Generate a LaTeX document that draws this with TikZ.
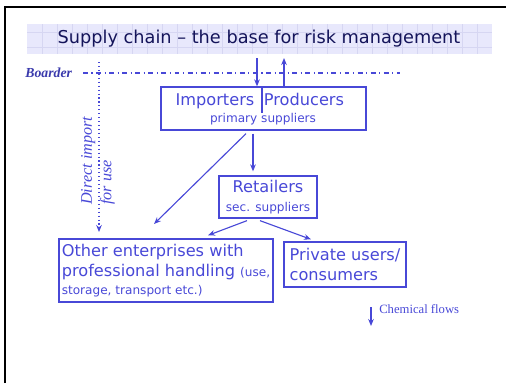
\documentclass[tikz,border=0pt]{standalone}
\usepackage{fontspec}
\setmainfont{DejaVu Sans}
\newfontfamily\notefont{Liberation Serif}
\usetikzlibrary{arrows.meta,calc,positioning}

\definecolor{chainblue}{RGB}{72,72,215}
\definecolor{titlenavy}{RGB}{20,20,90}
\definecolor{bandfill}{RGB}{232,232,252}
\definecolor{bandgrid}{RGB}{214,214,242}

\tikzset{
  party/.style = {draw=chainblue, line width=0.9pt, rectangle, inner sep=0pt},
  flow/.style = {chainblue, line width=0.8pt, -{Stealth[length=5pt,width=4pt]}},
  bigtext/.style = {font=\fontsize{11.5}{14}\selectfont},
  smalltext/.style = {font=\fontsize{8.6}{10}\selectfont}
}

\begin{document}
\begin{tikzpicture}[x=0.025cm, y=-0.025cm, every node/.style = {text=chainblue}]
  \useasboundingbox (0,0) rectangle (506,383);

  % slide frame and title band
  \draw[line width=1.4pt] (5,383) -- (5,7) -- (506,7);
  \fill[bandfill] (27,24) rectangle (492,54);
  \foreach \gx in {42,57,...,490} \draw[bandgrid, line width=0.4pt] (\gx,24) -- (\gx,54);
  \foreach \gy in {32,47} \draw[bandgrid, line width=0.4pt] (27,\gy) -- (492,\gy);
  \node[text=titlenavy, font=\fontsize{12.6}{14}\selectfont] (title) at (259,39) {Supply chain – the base for risk management};

  % border line
  \node[anchor=east, text=chainblue!80!black, font=\notefont\bfseries\itshape\fontsize{9.8}{11}\selectfont] (boarder) at (77,73) {Boarder};
  \coordinate (bl) at (83,73);
  \coordinate (br) at (400,73);
  \draw[chainblue, line width=0.8pt, dash pattern=on 3.5pt off 2.5pt on 0.8pt off 2.5pt] (bl) -- (br);

  % boxes
  \node[party, minimum width=5.125cm, minimum height=1.075cm] (prim) at (263.5,108.5) {};
  \node[bigtext, anchor=base] (imp) at (215,105) {Importers};
  \node[bigtext, anchor=base] (prod) at (304,105) {Producers};
  \node[smalltext] (primtxt) at (263,119) {primary suppliers};
  \coordinate (split) at (262,113);
  \draw[chainblue, line width=0.8pt] (split |- prim.north) -- (split);

  \node[party, minimum width=2.45cm, minimum height=1.05cm, align=center, bigtext] (ret) at (268,197)
    {Retailers\\[-1pt]{\fontsize{8.6}{10}\selectfont sec. suppliers}};

  \node[party, minimum width=5.35cm, minimum height=1.575cm, align=left, bigtext] (other) at (166,270.5)
    {Other enterprises with\\professional handling {\fontsize{8.6}{10}\selectfont(use,}\\[-1pt]{\fontsize{8.6}{10}\selectfont storage, transport etc.)}};

  \node[party, minimum width=3.05cm, minimum height=1.125cm, align=left, bigtext] (priv) at (345,264.5)
    {Private users/\\consumers};

  % flows
  \coordinate (inflow) at (257,58);
  \coordinate (outflow) at (284,58);
  \draw[flow] (inflow) -- (inflow |- prim.north);
  \draw[flow] (outflow |- prim.north) -- (outflow);
  \draw[flow] ($(prim.south)+(-10.5,3)$) -- ($(ret.north)+(-15,-4)$);
  \coordinate (direct) at (154,224);
  \draw[flow] ($(prim.south)+(-17.5,3)$) -- (direct);
  \draw[flow] ($(ret.south)+(-21,2)$) -- ($(other.north)+(42,-3)$);
  \draw[flow] ($(ret.south)+(-8,2)$) -- ($(priv.north)+(-34,-2)$);

  % direct import
  \coordinate (dtop) at (99,62);
  \coordinate (dbot) at (99,232);
  \draw[flow, dotted] (dtop) -- (dbot);
  \node[rotate=90, anchor=west, align=left, inner sep=0pt, font=\notefont\itshape\fontsize{11.5}{14}\selectfont] (dirtxt) at (98,205) {Direct import\\for use};

  % key
  \coordinate (keytop) at (371,307);
  \coordinate (keybot) at (371,326);
  \draw[flow] (keytop) -- (keybot);
  \node[anchor=west, inner sep=0pt, font=\notefont\fontsize{9}{11}\selectfont] (keytxt) at (379,309) {Chemical flows};
\end{tikzpicture}
\end{document}
